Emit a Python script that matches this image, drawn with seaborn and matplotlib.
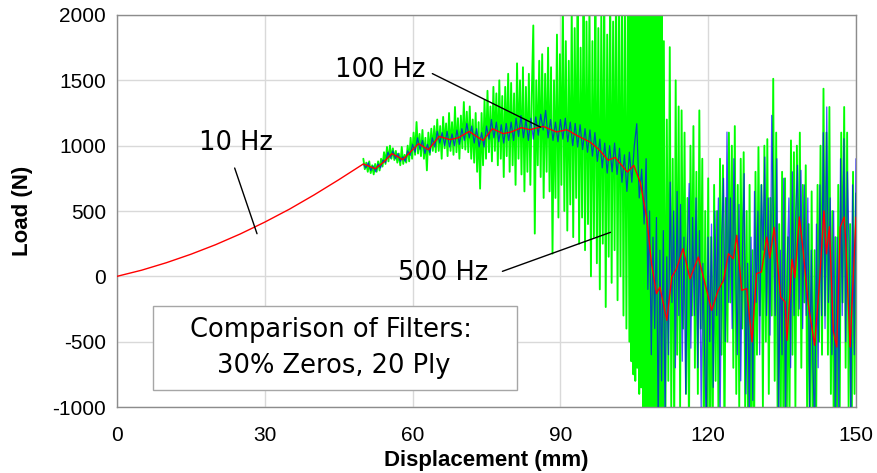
import numpy as np
import pandas as pd
import seaborn as sns
import matplotlib.pyplot as plt
from matplotlib.patches import Rectangle

# ---------------- data ----------------
red_x = [0, 5, 10, 15, 20, 25, 30, 35, 40, 45, 50, 51, 52.4, 54, 55.8, 57, 58, 59.5, 61.2, 62.3, 63.2,
         64.3, 65.4, 67.6, 69.3, 71.5, 73, 74.3, 76.2, 78.4, 80, 82.1, 83.8, 86.5, 89.2, 91.3, 93.3,
         96.0, 97.7, 99.7, 101.1, 103.6, 104.9, 106.2, 107.5, 108.5, 109.5, 110.2, 111.6, 112.6, 113.6,
         114.9, 116.3, 118.0, 120.7, 122.0, 123.1, 124.1, 125.1, 125.8, 126.8, 127.8, 128.9, 129.8,
         130.8, 131.9, 132.5, 133.4, 134.7, 135.6, 136.0, 137.0, 137.6, 138.5, 139.3, 140.3, 141.6,
         142.5, 143.5, 144.0, 144.6, 145.4, 146.1, 146.8, 147.6, 147.9, 148.8, 150]
red_y = [0, 47, 104, 169, 242, 324, 415, 514, 623, 739, 860, 845, 824, 870, 939, 915, 893, 950, 1015, 990, 969,
         1020, 1071, 1046, 1061, 1109, 1070, 1040, 1130, 1092, 1105, 1138, 1122, 1148, 1105, 1122, 1079,
         1028, 975, 888, 910, 798, 849, 720, 454, 97, -132, -82, -337, -5, 59,
         212, -18, 148, -260, -110, -31, 173, 135, 314, -107, -94, -502, 21,
         33, 301, 140, 375, -158, -196, -490, 130, -10, 454, 185, -209, -528,
         -90, 500, 173, 380, -420, -541, 377, 454, 280, -541, 454]

blue_head_range = (50, 107)
blue_head_y = [860, 830, 870, 810, 845, 800, 860, 830, 890, 870,
               950, 905, 960, 900, 940, 880, 915, 880, 960, 925,
               1010, 950, 1060, 970, 1040, 940, 1010, 945, 1060, 990,
               1110, 1020, 1100, 1000, 1110, 990, 1090, 1000, 1120, 1010,
               1130, 1040, 1170, 1060, 1150, 1020, 1130, 990, 1100, 990,
               1150, 1050, 1200, 1060, 1180, 1030, 1160, 1020, 1170, 1040,
               1180, 1040, 1210, 1070, 1230, 1060, 1200, 1040, 1210, 1050,
               1220, 1080, 1240, 1120, 1270, 1060, 1200, 1040, 1180, 1030,
               1200, 1050, 1210, 1030, 1180, 1000, 1170, 990, 1160, 970,
               1130, 950, 1120, 920, 1100, 880, 1050, 830, 1020, 790,
               1000, 800, 1020, 780, 980, 720, 930, 650, 950, 720,
               1000, 1168, 600, 820, 400]
blue_tail_range = (107.4, 150)
blue_tail_y = [900, -100, 500, -600, 300, -400, 450, -1150, 200, -800,
               350, -1100, 150, -600, 721, -200, 500, -700, 650, -300,
               550, -650, 300, -900, 200, 711, -550, 450, -300, 600,
               -700, 350, -1000, 100, -600, -1150, 300, -500, 400, -850,
               500, -300, 600, -1100, 300, 750, -500, 1104, -200, 600,
               -400, 900, 100, -600, 550, -800, 200, 786, -900, 100,
               -1100, 300, -950, 650, -200, 500, -600, 700, 200, 913,
               -300, 600, -450, 1232, 400, -300, 900, -1150, 200, -600,
               750, -1100, 100, 600, -700, 800, -300, 500, 850, -250,
               811, -400, 700, -300, 600, -1000, 200, -700, -1150, 400,
               -700, 700, -300, 1100, -400, 1296, -200, 600, -600, 500,
               -1150, 300, -1100, 900, -300, 1053, -500, 800, 200, -1150,
               700, -600, 900]

green_a_range = (50, 104)
green_a_y = [900, 820, 870, 800, 880, 790, 850, 780, 860, 800,
             880, 810, 900, 840, 950, 860, 990, 880, 1000, 900,
             980, 890, 960, 870, 940, 850, 990, 860, 930, 870,
             1000, 880, 1060, 900, 1100, 930, 1181, 940, 1090, 920,
             1120, 900, 1060, 811, 1100, 930, 1130, 960, 1150, 950,
             1200, 960, 1150, 900, 1220, 980, 1170, 920, 1250, 960,
             1180, 930, 1296, 950, 1210, 900, 1230, 980, 1334, 970,
             1260, 950, 1300, 900, 1200, 870, 1250, 800, 1180, 671,
             1250, 850, 1350, 900, 1420, 950, 1300, 880, 1450, 960,
             1400, 850, 1500, 900, 1380, 760, 1450, 920, 1550, 800,
             1480, 850, 1400, 700, 1630, 900, 1500, 780, 1600, 650,
             1450, 800, 1550, 700, 1400, 1920, 327, 1500, 850, 1650,
             760, 1700, 600, 1550, 800, 1750, 650, 1600, 174, 1500,
             600, 1850, 450, 1700, 700, 2100, 500, 1800, 350, 1650,
             550, 2050, 300, 1900, 600, 2150, 250, 1750, 450, 2200,
             200, 1950, 400, 2100, 0, 1800, 300, 2150, 100, 1900,
             -100, 2000, 250, 2200, -235, 1850, 150, 2250, -50, 1950,
             200, 2300, -183, 2050, 0, 2250, -300, 2100, -400, 2200,
             -500]
green_b_range = (104.2, 111)
green_b_y = [2400, -650, 2300, -750, 2500, -800, 2300, -700, 2400, -900,
             2500, -850, 2400, -1500, 2500, -1500, 2500, -1500, 2500, -1500,
             2500, -1500, 2500, -1500, 2500, -1500, 2500, -1500, 2500, -1500,
             2400, -1500, 2200, -1400, 1800]
green_c_range = (111.3, 150)
green_c_y = [-1300, 1200, -800, 1754, -1000, 900, -1200, 1500, -600, 1300,
             -1000, 1270, -400, 1100, -900, 600, -1200, 1000, -300, 1150,
             -700, 800, -900, 1270, -400, 900, -1300, 500, -1400, 750,
             -1500, 300, -1300, 700, -800, 500, -1200, 900, -600, 850,
             -1300, 600, -500, 1100, -200, 1000, -700, 1150, -900, 700,
             -1000, 900, -400, 950, -1000, 500, -1300, 700, -1500, 200,
             -1400, 800, -600, 989, -300, 700, -1000, 1000, -500, 1050,
             -900, 600, -300, 1512, -800, 1100, -1200, 400, -1300, 800,
             -1500, 750, -1400, 300, -1100, 1040, -600, 950, -1000, 1000,
             -300, 1100, -700, 700, -200, 850, -1200, 400, -1300, 650,
             -1500, 200, -1200, 700, -500, 1000, -600, 1436, -300, 1100,
             -600, 1296, -900, 500, -1300, 300, -1500, 700, -1000, 1100,
             -200, 1296, -700, 1100, -1000, 400, -1500, 800, -900, 635]

x_ticks = [0, 30, 60, 90, 120, 150]
y_ticks = [-1000, -500, 0, 500, 1000, 1500, 2000]


def seg(rng, vals):
    return np.linspace(rng[0], rng[1], len(vals)), np.asarray(vals, dtype=float)


gx, gy = [], []
for r, v in [(green_a_range, green_a_y), (green_b_range, green_b_y), (green_c_range, green_c_y)]:
    a, b = seg(r, v)
    gx.append(a)
    gy.append(b)
green_df = pd.DataFrame({"x": np.concatenate(gx), "y": np.concatenate(gy)})

bx, by = [], []
for r, v in [(blue_head_range, blue_head_y), (blue_tail_range, blue_tail_y)]:
    a, b = seg(r, v)
    bx.append(a)
    by.append(b)
blue_df = pd.DataFrame({"x": np.concatenate(bx), "y": np.concatenate(by)})

red_df = pd.DataFrame({"x": red_x, "y": red_y})

# ---------------- plot ----------------
sns.set_style("white")
plt.rcParams["font.family"] = ["Liberation Sans", "DejaVu Sans"]

fig = plt.figure(figsize=(8.77, 4.73), dpi=100)
ax = fig.add_axes([117 / 877, 66 / 473, 739 / 877, 392 / 473])

sns.lineplot(data=green_df, x="x", y="y", estimator=None, sort=False,
             color="#00ff00", lw=1.35, ax=ax, zorder=2)
sns.lineplot(data=blue_df, x="x", y="y", estimator=None, sort=False,
             color="#0000ff", lw=0.9, alpha=0.7, ax=ax, zorder=3)
sns.lineplot(data=red_df, x="x", y="y", estimator=None, sort=False,
             color="#ff0000", lw=1.0, ax=ax, zorder=4)

ax.set_xlim(0, 150)
ax.set_ylim(-1000, 2000)
ax.set_xticks(x_ticks)
ax.set_yticks(y_ticks)
ax.set_xticklabels([str(t) for t in x_ticks])
ax.set_yticklabels([str(t) for t in y_ticks])
ax.tick_params(length=0, labelsize=15, labelcolor="black")
ax.tick_params(axis="y", pad=8)
ax.tick_params(axis="x", pad=14)
ax.grid(True, color="#d9d9d9", lw=1)
ax.set_axisbelow(True)
for s in ax.spines.values():
    s.set_color("#8c8c8c")
    s.set_linewidth(1)

ax.set_xlabel("Displacement (mm)", fontsize=16, fontweight="bold", labelpad=3, color="black")
ax.set_ylabel("Load (N)", fontsize=16, fontweight="bold", labelpad=14, color="black")

afont = dict(family="DejaVu Sans", fontsize=18.5, color="black")
ax.text(24.2, 1018, "10 Hz", ha="center", va="center", zorder=6, **afont)
ax.annotate("", xy=(28.6, 306), xytext=(23.7, 849),
            arrowprops=dict(arrowstyle="-", color="black", lw=1), zorder=6)
ax.text(53.4, 1576, "100 Hz", ha="center", va="center", zorder=6, **afont)
ax.annotate("", xy=(86.5, 1132), xytext=(63.5, 1561),
            arrowprops=dict(arrowstyle="-", color="black", lw=1), zorder=6)
ax.text(66.2, 23, "500 Hz", ha="center", va="center", zorder=6, **afont)
ax.annotate("", xy=(100.7, 344), xytext=(77.7, 31),
            arrowprops=dict(arrowstyle="-", color="black", lw=1), zorder=6)

ax.add_patch(Rectangle((7.3, -872), 73.9, 642, facecolor="white",
                       edgecolor="#a6a6a6", lw=1, zorder=7))
ax.text(14.8, -413, "Comparison of Filters:", ha="left", va="center", zorder=8, **afont)
ax.text(20.3, -689, "30% Zeros, 20 Ply", ha="left", va="center", zorder=8, **afont)

fig.savefig("out.png", dpi=100)
